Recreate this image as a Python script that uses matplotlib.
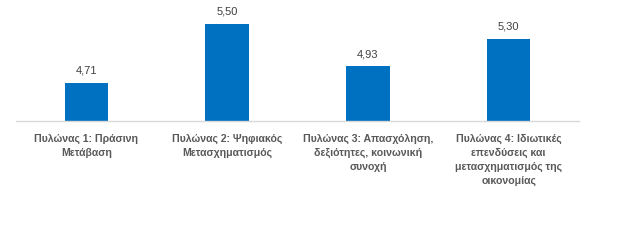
import matplotlib
matplotlib.use('Agg')
import matplotlib.pyplot as plt

categories = ['Πυλώνας 1: Πράσινη\nΜετάβαση',
              'Πυλώνας 2: Ψηφιακός\nΜετασχηματισμός',
              'Πυλώνας 3: Απασχόληση,\nδεξιότητες, κοινωνική\nσυνοχή',
              'Πυλώνας 4: Ιδιωτικές\nεπενδύσεις και\nμετασχηματισμός της\nοικονομίας']
values = [4.71, 5.50, 4.93, 5.30]
value_labels = ['4,71', '5,50', '4,93', '5,30']

plt.rcParams['font.family'] = ['Liberation Sans', 'DejaVu Sans']

fig = plt.figure(figsize=(6.32, 2.4), dpi=100)
ax = fig.add_axes([16 / 632, 119 / 240, 563 / 632, 121 / 240])

x = range(len(values))
ax.bar(x, values, width=0.31, color='#0070C0')
ax.set_xlim(-0.5, len(values) - 0.5)
ax.set_ylim(4.2, 5.82)

for xi, v, lab in zip(x, values, value_labels):
    ax.annotate(lab, (xi, v), xytext=(0, 5), textcoords='offset points',
                ha='center', va='bottom', fontsize=8, color='#404040')

ax.set_xticks(list(x))
ax.set_xticklabels(categories, fontsize=7.6, fontweight='bold', color='#595959',
                   linespacing=1.5)
ax.tick_params(axis='x', length=0, pad=9)
ax.set_yticks([])
for side in ['top', 'right', 'left']:
    ax.spines[side].set_visible(False)
ax.spines['bottom'].set_color('#D9D9D9')
ax.spines['bottom'].set_linewidth(1)

fig.savefig('out.png', dpi=100)
